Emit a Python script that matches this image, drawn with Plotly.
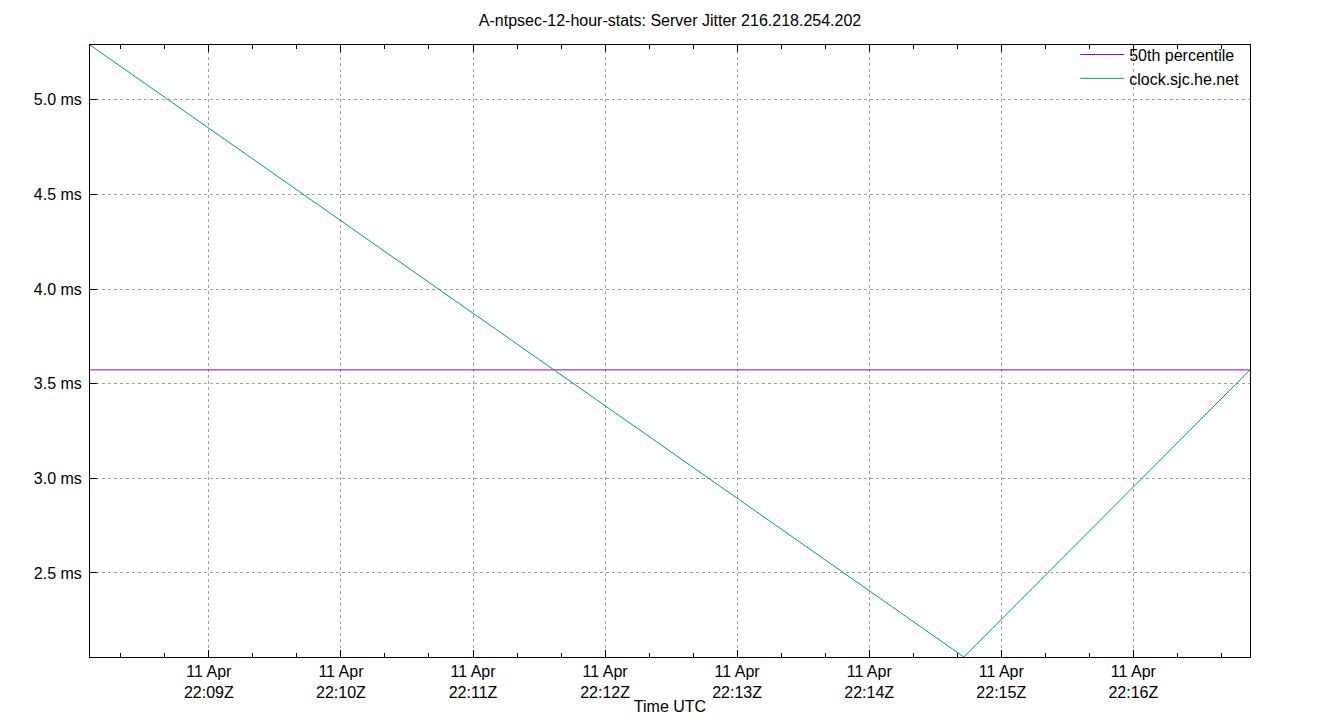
import plotly.graph_objects as go

# Data
times = ["2023-04-11 22:08:06", "2023-04-11 22:14:43", "2023-04-11 22:16:53"]
jitter_ms = [5.290, 2.056, 3.573]
median_ms = 3.573

title_text = "A-ntpsec-12-hour-stats: Server Jitter 216.218.254.202"
server_name = "clock.sjc.he.net"
median_name = "50th percentile"

font_family = "Liberation Sans, Arial, sans-serif"
grid_color = "#a0a0a0"

fig = go.Figure()

fig.add_trace(go.Scatter(
    x=[times[0], times[-1]],
    y=[median_ms, median_ms],
    mode="lines",
    name=median_name,
    line=dict(color="#9400d3", width=1),
))

fig.add_trace(go.Scatter(
    x=times,
    y=jitter_ms,
    mode="lines",
    name=server_name,
    line=dict(color="#009e73", width=1),
))

# the page body has an 8px margin, so margins are shifted to land the plot area
# where the reference has it
fig.update_layout(
    width=1340,
    height=720,
    margin=dict(l=82, r=98, t=37, b=71),
    plot_bgcolor="white",
    paper_bgcolor="white",
    font=dict(family=font_family, size=16, color="black"),
    title=dict(text=title_text, x=(90 - 8 + 580) / 1340, xanchor="center",
               y=1 - 12 / 720, yanchor="middle", font=dict(size=16)),
    legend=dict(x=0.995, y=1.012, xanchor="right", yanchor="top",
                bgcolor="rgba(0,0,0,0)", font=dict(size=16),
                tracegroupgap=0, itemwidth=44),
    showlegend=True,
)

fig.update_xaxes(
    type="date",
    range=[times[0], times[-1]],
    tickformat="%d %b<br>%H:%MZ",
    dtick=60000,
    tick0="2023-04-11 22:00:00",
    ticks="inside",
    ticklen=7,
    tickcolor="black",
    tickfont=dict(size=16),
    showline=True,
    linecolor="black",
    linewidth=1,
    mirror="ticks",
    showgrid=True,
    gridcolor=grid_color,
    griddash="dot",
    gridwidth=1,
    zeroline=False,
    minor=dict(dtick=20000, ticks="inside", ticklen=4, tickcolor="black", showgrid=False),
    title=dict(text="Time UTC", standoff=0, font=dict(size=16)),
    automargin=False,
)

fig.update_yaxes(
    range=[min(jitter_ms), max(jitter_ms)],
    tick0=2.5,
    dtick=0.5,
    tickformat=".1f",
    ticksuffix=" ms",
    ticks="inside",
    ticklen=7,
    tickcolor="black",
    tickfont=dict(size=16),
    ticklabelstandoff=4,
    showline=True,
    linecolor="black",
    linewidth=1,
    mirror=True,
    showgrid=True,
    gridcolor=grid_color,
    griddash="dot",
    gridwidth=1,
    zeroline=False,
    automargin=False,
)

fig.write_html("out.html")
